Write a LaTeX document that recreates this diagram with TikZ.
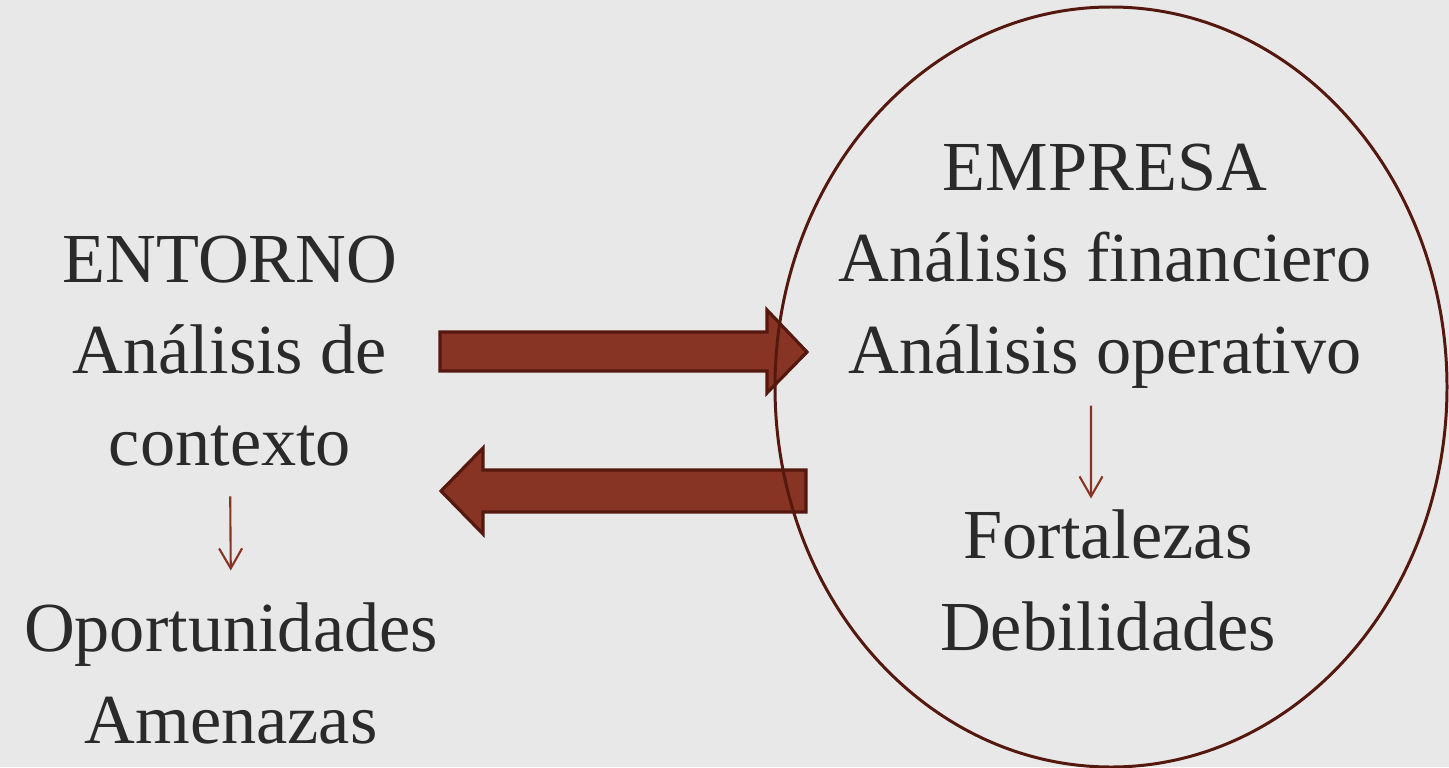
\documentclass[tikz,border=0pt]{standalone}
\usepackage{fontspec}
\setmainfont{Liberation Serif}
\usetikzlibrary{arrows.meta,shapes.geometric,positioning}
\definecolor{paper}{HTML}{E8E8E8}
\definecolor{ink}{HTML}{2A2A2A}
\definecolor{rust}{HTML}{873424}
\definecolor{darkrust}{HTML}{55180F}

\begin{document}
\begin{tikzpicture}[auto,
  block/.style={align=center,text=ink,inner sep=0pt,anchor=base,
    font=\fontsize{20}{25.9}\selectfont},
  bigarrow/.style={fill=rust,draw=darkrust,line width=0.9pt,line join=miter},
  down/.style={draw=rust,line width=0.6pt,-{Straight Barb[length=2mm,width=2.3mm]}}]
  \fill[paper] (0,0) rectangle (14.49,7.67);
  \useasboundingbox (0,0) rectangle (14.49,7.67);

  \node[block] (entorno) at (2.30,3.02) {ENTORNO\\An\'alisis de\\contexto};
  \node[block] (oport) at (2.31,0.24) {Oportunidades\\Amenazas};
  \node[block] (empresa) at (11.05,3.94) {EMPRESA\\An\'alisis financiero\\An\'alisis operativo};
  \node[block] (fortal) at (11.08,1.17) {Fortalezas\\Debilidades};

  \draw[down,shorten <=0.30cm,shorten >=0.32cm] (entorno.south) -- (oport.north);
  \draw[down,shorten <=0.17cm,shorten >=0.11cm]
    ([xshift=-1.4mm]empresa.south) -- ([xshift=-1.7mm]fortal.north);

  \draw[bigarrow] (4.40,3.96) -- (7.67,3.96) -- (7.67,3.74) -- (8.07,4.15)
    -- (7.67,4.57) -- (7.67,4.35) -- (4.40,4.35) -- cycle;
  \draw[bigarrow] (8.06,2.55) -- (4.83,2.55) -- (4.83,2.33) -- (4.41,2.76)
    -- (4.83,3.19) -- (4.83,2.97) -- (8.06,2.97) -- cycle;

  \node[ellipse,draw=darkrust,line width=0.85pt,minimum width=6.72cm,
    minimum height=7.6cm] (firma) at (11.11,3.80) {};
\end{tikzpicture}
\end{document}
